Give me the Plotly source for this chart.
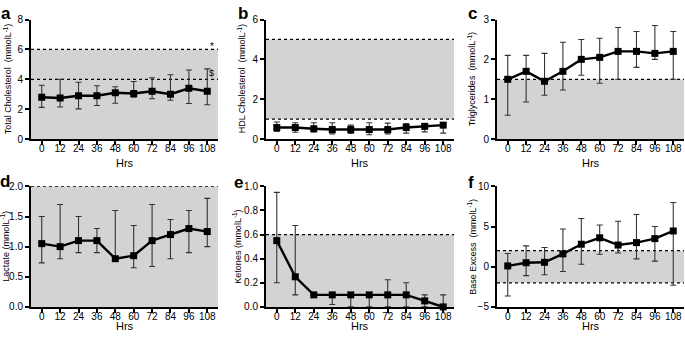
import plotly.graph_objects as go

W, H = 685, 338

hours = [0, 12, 24, 36, 48, 60, 72, 84, 96, 108]

# a: Total cholesterol
tc_mean = [2.8, 2.75, 2.9, 2.9, 3.1, 3.05, 3.2, 3.0, 3.4, 3.2]
tc_up = [3.6, 4.0, 3.8, 3.57, 3.5, 3.85, 4.1, 4.3, 4.62, 4.7]
tc_lo = [2.12, 2.15, 2.02, 2.25, 2.4, 2.8, 2.7, 2.6, 2.38, 2.3]
# b: HDL cholesterol
hdl_mean = [0.58, 0.58, 0.52, 0.48, 0.48, 0.48, 0.48, 0.58, 0.64, 0.7]
hdl_up = [0.86, 0.82, 0.82, 0.82, 0.7, 0.82, 0.8, 0.78, 0.76, 0.8]
hdl_lo = [0.38, 0.34, 0.36, 0.26, 0.28, 0.22, 0.26, 0.3, 0.36, 0.3]
# c: Triglycerides
tg_mean = [1.5, 1.7, 1.45, 1.7, 2.0, 2.05, 2.2, 2.2, 2.15, 2.2]
tg_up = [2.1, 2.1, 2.15, 2.43, 2.5, 2.53, 2.8, 2.7, 2.85, 2.7]
tg_lo = [0.6, 0.93, 1.1, 1.23, 1.6, 1.4, 1.5, 1.8, 2.0, 1.5]
# d: Lactate
lac_mean = [1.05, 1.0, 1.1, 1.1, 0.8, 0.85, 1.1, 1.2, 1.3, 1.25]
lac_up = [1.5, 1.7, 1.5, 1.3, 1.6, 1.35, 1.7, 1.45, 1.6, 1.8]
lac_lo = [0.73, 0.8, 0.9, 0.9, 0.78, 0.65, 0.67, 0.8, 0.9, 1.0]
# e: Ketones
ket_mean = [0.55, 0.25, 0.1, 0.1, 0.1, 0.1, 0.1, 0.1, 0.05, 0.0]
ket_up = [0.95, 0.675, 0.1, 0.1, 0.1, 0.1, 0.225, 0.2, 0.1, 0.1]
ket_lo = [0.2, 0.1, 0.1, 0.02, 0.0, 0.0, 0.0, 0.0, 0.0, 0.0]
# f: Base excess
be_mean = [0.1, 0.5, 0.55, 1.6, 2.8, 3.6, 2.7, 3.0, 3.5, 4.45]
be_up = [1.65, 2.6, 2.4, 4.7, 6.0, 5.2, 5.65, 6.5, 5.0, 8.0]
be_lo = [-3.65, -1.1, -1.0, -0.6, 0.3, 1.55, 1.7, 0.98, 0.7, -2.3]

# reference (shaded) ranges and dotted limit lines
tc_band = [0, 6]; tc_lines = [6, 4]
hdl_band = [1, 5]; hdl_lines = [1, 5]
tg_band = [0, 1.5]; tg_lines = [1.5]
lac_band = [0, 2.0]; lac_lines = [2.0]
ket_band = [0, 0.6]; ket_lines = [0.6]
be_band = [-2, 2]; be_lines = [-2, 2]

y_ranges = [[0, 8], [0, 6], [0, 3], [0, 2], [0, 1], [-5, 10]]
y_ticks = [[0, 2, 4, 6, 8], [0, 2, 4, 6], [0, 1, 2, 3],
           [0, 0.5, 1.0, 1.5, 2.0], [0, 0.2, 0.4, 0.6, 0.8, 1.0], [-5, 0, 5, 10]]
y_ticktext = [None, None, None,
              ["0.0", "0.5", "1.0", "1.5", "2.0"],
              ["0.0", "0.2", "0.4", "0.6", "0.8", "1.0"], None]
y_titles = ["Total Cholesterol  (mmolL<sup>-1</sup>)",
            "HDL Cholesterol  (mmolL<sup>-1</sup>)",
            "Triglycerides  (mmolL<sup>-1</sup>)",
            "Lactate (mmolL<sup>-1</sup>)",
            "Ketones (mmolL<sup>-1</sup>)",
            "Base Excess  (mmolL<sup>-1</sup>)"]
letters = ["a", "b", "c", "d", "e", "f"]
x_label = "Hrs"

panels = [
    (tc_mean, tc_up, tc_lo, tc_band, tc_lines),
    (hdl_mean, hdl_up, hdl_lo, hdl_band, hdl_lines),
    (tg_mean, tg_up, tg_lo, tg_band, tg_lines),
    (lac_mean, lac_up, lac_lo, lac_band, lac_lines),
    (ket_mean, ket_up, ket_lo, ket_band, ket_lines),
    (be_mean, be_up, be_lo, be_band, be_lines),
]

# pixel layout
col_px = [(31, 218), (266, 454), (497, 684)]
row_px = [(14, 138), (187, 312)]
ytitle_x = [8, 242, 472, 5, 237, 472]
letter_pos = [(6, 8), (243, 8), (472, 8), (5, 182), (239, 183), (471, 183)]
hrs_y = [163, 332]

def px_x(p):
    return p / W

def px_y(p):
    return 1 - p / H

FONT = "Arial, Liberation Sans, sans-serif"
NARROW = "Liberation Sans Narrow, Arial Narrow, Arial, sans-serif"
fig = go.Figure()
shapes = []
annotations = []
layout_axes = {}

for i, (mean, up, lo, band, lines) in enumerate(panels):
    r, c = divmod(i, 3)
    n = i + 1
    xa = "x" if n == 1 else f"x{n}"
    ya = "y" if n == 1 else f"y{n}"
    xd = [px_x(col_px[c][0]), px_x(col_px[c][1])]
    yd = [px_y(row_px[r][1]), px_y(row_px[r][0])]

    # shaded band
    shapes.append(dict(type="rect", xref=f"{xa} domain", yref=ya,
                       x0=0, x1=1, y0=band[0], y1=band[1],
                       fillcolor="#d3d3d3", line=dict(width=0), layer="below"))
    for lv in lines:
        shapes.append(dict(type="line", xref=f"{xa} domain", yref=ya,
                           x0=0, x1=1, y0=lv, y1=lv,
                           line=dict(color="black", width=1.2, dash="dot"),
                           layer="below"))

    fig.add_trace(go.Scatter(
        x=hours, y=mean, xaxis=xa, yaxis=ya,
        mode="lines+markers",
        line=dict(color="black", width=2.4),
        marker=dict(symbol="square", size=7, color="black"),
        error_y=dict(type="data", symmetric=False,
                     array=[u - m for u, m in zip(up, mean)],
                     arrayminus=[m - l for m, l in zip(mean, lo)],
                     color="#333333", thickness=1.1, width=3),
        cliponaxis=False, showlegend=False))

    key_x = "xaxis" if n == 1 else f"xaxis{n}"
    key_y = "yaxis" if n == 1 else f"yaxis{n}"
    layout_axes[key_x] = dict(
        domain=xd, anchor=ya, range=[-7, 115],
        tickmode="array", tickvals=hours,
        showline=True, linecolor="black", linewidth=2,
        ticks="outside", ticklen=4, tickwidth=1.5, tickcolor="black",
        ticklabelstandoff=-5,
        showgrid=False, zeroline=False,
        tickfont=dict(family=NARROW, size=10, color="black"))
    ya_dict = dict(
        domain=yd, anchor=xa, range=y_ranges[i],
        tickmode="array", tickvals=y_ticks[i],
        showline=True, linecolor="black", linewidth=2,
        ticks="outside", ticklen=4, tickwidth=1.5, tickcolor="black",
        showgrid=False, zeroline=False,
        tickfont=dict(family=NARROW, size=10, color="black"))
    if y_ticktext[i] is not None:
        ya_dict["ticktext"] = y_ticktext[i]
    layout_axes[key_y] = ya_dict

    # y title
    annotations.append(dict(
        text=y_titles[i], xref="paper", yref="paper",
        x=px_x(ytitle_x[i]), y=(yd[0] + yd[1]) / 2,
        textangle=-90, showarrow=False,
        font=dict(family=FONT, size=9, color="black"),
        xanchor="center", yanchor="middle"))
    # x title, centred under the tick span
    annotations.append(dict(
        text=x_label, xref=xa, yref="paper",
        x=(hours[0] + hours[-1]) / 2, y=px_y(hrs_y[r]),
        showarrow=False,
        font=dict(family=NARROW, size=11, color="black"),
        xanchor="center", yanchor="middle"))
    # panel letter
    annotations.append(dict(
        text=f"<b>{letters[i]}</b>", xref="paper", yref="paper",
        x=px_x(letter_pos[i][0]), y=px_y(letter_pos[i][1]),
        showarrow=False, font=dict(family=FONT, size=17, color="black"),
        xanchor="center", yanchor="middle"))

# significance marks on panel a
annotations.append(dict(text="*", xref="x", yref="y", x=111, y=6.2,
                        showarrow=False, xanchor="center", yanchor="middle",
                        font=dict(family=FONT, size=10, color="black")))
annotations.append(dict(text="$", xref="x", yref="y", x=111, y=4.45,
                        showarrow=False, xanchor="center", yanchor="middle",
                        font=dict(family=FONT, size=9, color="black")))

fig.update_layout(
    width=W, height=H,
    margin=dict(l=0, r=0, t=0, b=0),
    paper_bgcolor="white", plot_bgcolor="white",
    shapes=shapes, annotations=annotations,
    font=dict(family=FONT, color="black"),
    **layout_axes)

fig.write_html("out.html",
               config={"displayModeBar": False},
               post_script="document.body.style.margin='0';"
                           "document.body.style.overflow='hidden';")
